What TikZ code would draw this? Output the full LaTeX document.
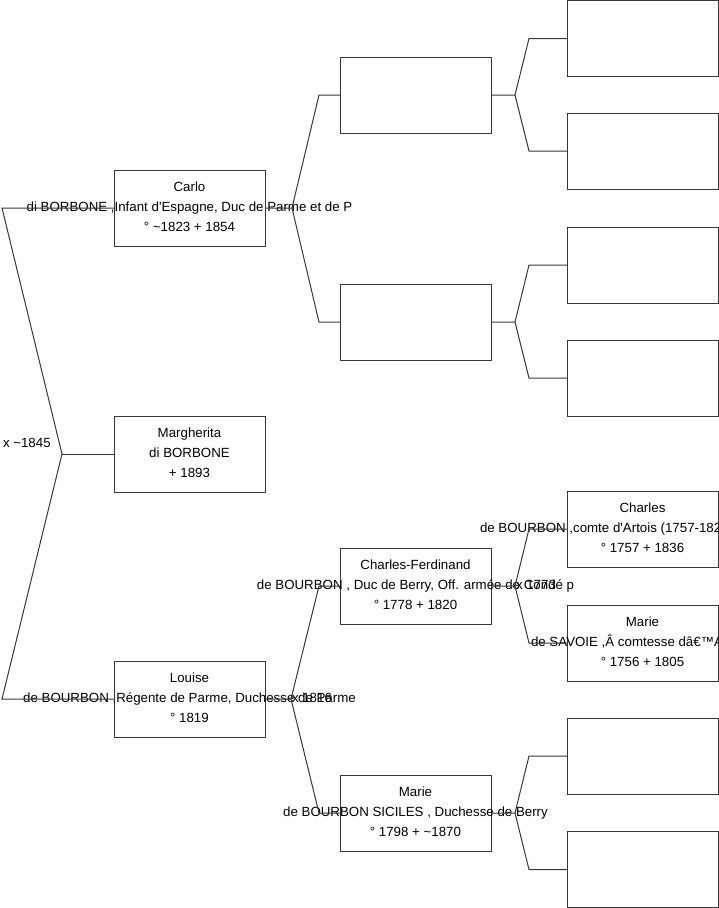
\documentclass[tikz,border=0pt]{standalone}
\usepackage{fontspec}
\setmainfont{Liberation Sans}
\definecolor{linec}{RGB}{55,55,55}
\tikzset{
  pbox/.style={draw=linec, line width=1pt, minimum width=151pt, minimum height=76pt, inner sep=0pt, outer sep=0pt},
  ptext/.style={anchor=base, inner sep=0pt, outer sep=0pt, font=\fontsize{13.3}{16}\selectfont, text=black},
  ptextw/.style={ptext, anchor=base west},
  conn/.style={draw=linec, line width=1pt}
}
\newcommand\famlines[4]{%
  \node[ptext] (#1-a) at ([yshift=16.5pt]#1.center) {#2};
  \node[ptext] (#1-b) at ([yshift=-3.5pt]#1.center) {#3};
  \node[ptext] (#1-c) at ([yshift=-23pt]#1.center) {#4};}
\begin{document}
\begin{tikzpicture}[x=1pt,y=-1pt]
\useasboundingbox (0,0) rectangle (719,908);
\clip (0,0) rectangle (719,908);
% column 1
\node[pbox] (carlo) at (189.5,208) {};
\node[pbox] (marg) at (189.5,454) {};
\node[pbox] (louise) at (189.5,699) {};
% column 2
\node[pbox] (p1) at (415.5,95) {};
\node[pbox] (p2) at (415.5,322) {};
\node[pbox] (cf) at (415.5,586) {};
\node[pbox] (mb) at (415.5,813) {};
% column 3
\node[pbox] (q1) at (642.5,38.5) {};
\node[pbox] (q2) at (642.5,151) {};
\node[pbox] (q3) at (642.5,265) {};
\node[pbox] (q4) at (642.5,378) {};
\node[pbox] (ch) at (642.5,529) {};
\node[pbox] (ms) at (642.5,643) {};
\node[pbox] (q7) at (642.5,756) {};
\node[pbox] (q8) at (642.5,869.5) {};
% texts
\famlines{carlo}{Carlo}{di BORBONE ,Infant d\textquotesingle Espagne, Duc de Parme et de P}{° \textasciitilde1823 + 1854}
\famlines{marg}{Margherita}{di BORBONE}{+ 1893}
\famlines{louise}{Louise}{de BOURBON ,Régente de Parme, Duchesse de Parme}{° 1819}
\famlines{cf}{Charles-Ferdinand}{de BOURBON , Duc de Berry, Off. armée de Condé p}{° 1778 + 1820}
\famlines{mb}{Marie}{de BOURBON SICILES , Duchesse de Berry}{° 1798 + \textasciitilde1870}
\node[ptext] (ch-a) at ([yshift=16.5pt]ch.center) {Charles};
\node[ptextw] (ch-b) at ([yshift=-3.5pt]ch.center -| 480,0) {de BOURBON ,comte d\textquotesingle Artois (1757-182};
\node[ptext] (ch-c) at ([yshift=-23pt]ch.center) {° 1757 + 1836};
\node[ptext] (ms-a) at ([yshift=16.5pt]ms.center) {Marie};
\node[ptextw] (ms-b) at ([yshift=-3.5pt]ms.center -| 531,0) {de SAVOIE ,Â comtesse dâ€™A};
\node[ptext] (ms-c) at ([yshift=-23pt]ms.center) {° 1756 + 1805};
% marriage labels
\node[ptextw] (m0) at (3,447) {x \textasciitilde1845};
\node[ptextw] (m1) at (292,702.5) {x 1816};
\node[ptextw] (m2) at (516,589.5) {x 1773};
% junction points
\coordinate (j0) at (62,454);
\coordinate (j0u) at (2,208);
\coordinate (j0d) at (2,699);
\coordinate (j1) at (292,208);
\coordinate (j1u) at (319,95);
\coordinate (j1d) at (319,322);
\coordinate (j2) at (291,699);
\coordinate (j2u) at (319,586);
\coordinate (j2d) at (319,813);
\coordinate (k1) at (515,95);
\coordinate (k1u) at (529,38.5);
\coordinate (k1d) at (529,151);
\coordinate (k2) at (515,322);
\coordinate (k2u) at (529,265);
\coordinate (k2d) at (529,378);
\coordinate (k3) at (515,586);
\coordinate (k3u) at (529,529);
\coordinate (k3d) at (529,643);
\coordinate (k4) at (515,813);
\coordinate (k4u) at (529,756);
\coordinate (k4d) at (529,869.5);
% connectors
\draw[conn] (carlo.west) -- (j0u) -- (j0) -- (j0d) -- (louise.west);
\draw[conn] (j0) -- (marg.west);
\draw[conn] (carlo.east) -- (j1) -- (j1u) -- (p1.west);
\draw[conn] (j1) -- (j1d) -- (p2.west);
\draw[conn] (louise.east) -- (j2) -- (j2u) -- (cf.west);
\draw[conn] (j2) -- (j2d) -- (mb.west);
\draw[conn] (p1.east) -- (k1) -- (k1u) -- (q1.west);
\draw[conn] (k1) -- (k1d) -- (q2.west);
\draw[conn] (p2.east) -- (k2) -- (k2u) -- (q3.west);
\draw[conn] (k2) -- (k2d) -- (q4.west);
\draw[conn] (cf.east) -- (k3) -- (k3u) -- (ch.west);
\draw[conn] (k3) -- (k3d) -- (ms.west);
\draw[conn] (mb.east) -- (k4) -- (k4u) -- (q7.west);
\draw[conn] (k4) -- (k4d) -- (q8.west);
\end{tikzpicture}
\end{document}
